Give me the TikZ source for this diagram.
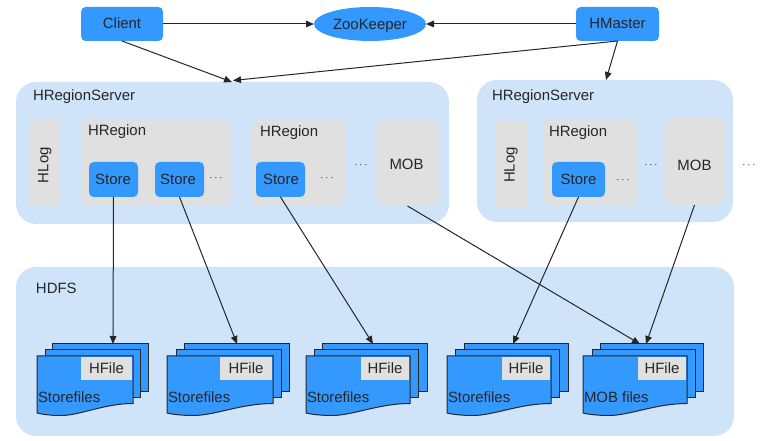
\documentclass[tikz,border=0pt]{standalone}
\usepackage{fontspec}
\setmainfont{Liberation Sans}
\usetikzlibrary{arrows.meta}
\usetikzlibrary{shapes.geometric}
\definecolor{blueb}{HTML}{3399FF}
\definecolor{paleb}{HTML}{D0E4F9}
\definecolor{greyb}{HTML}{E0E0E0}
\definecolor{ink}{HTML}{262626}
% text placed by its baseline against the node centre: x shift (twice), y shift, text
\newcommand{\tl}[3]{\makebox[0pt][c]{\hspace*{#1}\raisebox{#2}[0pt][0pt]{#3}}}
\newcommand{\bx}[7]{%
  \pgfmathsetmacro{\cxv}{(#2+#4)/2}\pgfmathsetmacro{\cyv}{(#3+#5)/2}%
  \pgfmathsetmacro{\wv}{(#4-#2)*0.75}\pgfmathsetmacro{\hv}{(#5-#3)*0.75}%
  \node[#6,minimum width=\wv pt,minimum height=\hv pt] (#1) at (\cxv,\cyv) {#7};}
% x1 front, x2 front, x1 mid, x2 mid, x1 back, x2 back, x1 hfile, label, name
\newcommand{\stack}[9]{%
  \bx{#9b}{#5}{344}{#6}{392}{sheet}{}
  \bx{#9m}{#3}{350}{#4}{398}{sheet}{}
  \pgfmathsetmacro{\wf}{#2-#1}%
  \draw[sheet] (#1,356) -- (#2,356) -- (#2,403.5)
    .. controls ({#2-0.3*\wf},403.5) and ({#1+0.45*\wf},415.5) .. ({#1+0.25*\wf},415.5)
    .. controls ({#1+0.15*\wf},415.5) and ({#1+0.06*\wf},414.5) .. (#1,413) -- cycle;
  \bx{#9h}{#7}{357}{#2-1}{380}{hfilebox}{\tl{0pt}{-3.8pt}{HFile}}
  \node[anchor=base west] (#9t) at (#1+1,402.5) {#8};}
\tikzset{
  x=0.75pt,y=-0.75pt,
  every node/.style={text=ink,font=\fontsize{11.2}{13}\selectfont,inner sep=0pt,outer sep=0pt},
  panel/.style={fill=paleb,rounded corners=15pt},
  grey/.style={fill=greyb,rounded corners=7pt,rectangle},
  greyslim/.style={fill=greyb,rounded corners=2.5pt,rectangle},
  bluebox/.style={fill=blueb,rounded corners=3.5pt,rectangle},
  sheet/.style={fill=blueb,draw=ink,line width=0.75pt,rectangle},
  hfilebox/.style={fill=greyb,rectangle},
  zk/.style={fill=blueb,ellipse},
  dots/.style={text=black,font=\fontsize{7.5}{9}\selectfont},
  arr/.style={draw=ink,line width=0.75pt,-{Triangle[length=6pt,width=5pt]}},
}
\begin{document}
\begin{tikzpicture}
\useasboundingbox (0,0) rectangle (776,441);
\bx{hrsa}{16}{82}{449}{224}{panel}{}
\bx{hrsb}{477}{80}{733}{222}{panel}{}
\bx{hdfs}{16}{267}{734}{436}{panel}{}
\node[anchor=base west] (hrsat) at (33,100.8) {HRegionServer};
\node[anchor=base west] (hrsbt) at (492,100.8) {HRegionServer};
\node[anchor=base west] (hdfst) at (36,293.8) {HDFS};
\bx{client}{81}{7}{163}{41}{bluebox}{\tl{0pt}{-3.6pt}{Client}}
\bx{master}{576}{7}{659}{41}{bluebox}{\tl{0pt}{-3.6pt}{HMaster}}
\bx{zoo}{314}{7}{426}{41}{zk}{\tl{0pt}{-4.3pt}{ZooKeeper}}
\bx{hloga}{29}{119}{60}{206}{greyslim}{\tl{0.6pt}{-15.4pt}{\rotatebox{90}{HLog}}}
\bx{rega}{81}{119}{232}{206}{grey}{}
\bx{regb}{251}{119}{345}{206}{grey}{}
\bx{moba}{376}{119}{439}{206}{grey}{\tl{-1.4pt}{-5.6pt}{MOB}}
\bx{hlogb}{495}{121}{527}{207}{greyslim}{\tl{0pt}{-14.25pt}{\rotatebox{90}{HLog}}}
\bx{regc}{543}{119}{637}{206}{grey}{}
\bx{mobb}{664}{118}{725}{205}{grey}{\tl{0pt}{-6.4pt}{MOB}}
\node[anchor=base west] (regat) at (88,135.8) {HRegion};
\node[anchor=base west] (regbt) at (260,136.8) {HRegion};
\node[anchor=base west] (regct) at (549,136.8) {HRegion};
\bx{sa}{89}{162}{138}{197}{bluebox}{\tl{-0.7pt}{-3.75pt}{Store}}
\bx{sb}{155}{162}{204}{197}{bluebox}{\tl{-2.2pt}{-3.75pt}{Store}}
\bx{sc}{256}{162}{305}{197}{bluebox}{\tl{0.7pt}{-3.75pt}{Store}}
\bx{sd}{552}{162}{605}{197}{bluebox}{\tl{0pt}{-3.75pt}{Store}}
\node[dots] (da) at (216,178) {$\cdots$};
\node[dots] (db) at (327,178) {$\cdots$};
\node[dots] (dc) at (361,165) {$\cdots$};
\node[dots] (dd) at (623,180) {$\cdots$};
\node[dots] (de) at (651,165) {$\cdots$};
\node[dots] (df) at (749,165) {$\cdots$};
\stack{37}{133}{45}{140}{52}{148}{81}{Storefiles}{fa}
\stack{167}{273}{176}{281}{184}{289}{220}{Storefiles}{fb}
\stack{306}{410}{314}{418}{322}{427}{361}{Storefiles}{fc}
\stack{447}{551}{455}{559}{464}{568}{502}{Storefiles}{fd}
\stack{583}{687}{592}{695}{600}{703}{638}{MOB files}{fe}
\coordinate (ta) at (232,82);
\coordinate (tb) at (233,80.5);
\coordinate (tc) at (606,80);
\coordinate (t1) at (113,344);
\coordinate (t2) at (237,344);
\coordinate (t3) at (373,344);
\coordinate (t4) at (513,344);
\coordinate (t5) at (640,344);
\coordinate (t6) at (646,344);
\draw[arr] (client.east) -- (zoo.west);
\draw[arr] (master.west) -- (zoo.east);
\draw[arr] (client.south) -- (ta);
\draw[arr] (master.south) -- (tb);
\draw[arr] (master.south) -- (tc);
\draw[arr] (sa.south) -- (t1);
\draw[arr] (sb.south) -- (t2);
\draw[arr] (sc.south) -- (t3);
\draw[arr] (sd.south) -- (t4);
\draw[arr] (moba.south) -- (t5);
\draw[arr] (mobb.south) -- (t6);
\end{tikzpicture}
\end{document}
